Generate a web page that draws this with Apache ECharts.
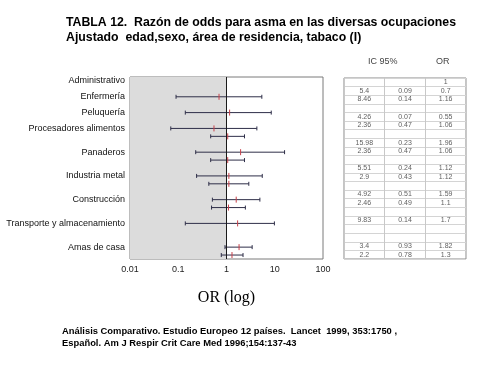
<!DOCTYPE html>
<html>
<head>
<meta charset="utf-8">
<script src="https://cdn.jsdelivr.net/npm/echarts@6/dist/echarts.min.js"></script>
<style>html,body{margin:0;padding:0;background:#fff}#c{width:491px;height:369px}</style>
</head>
<body>
<div id="c"></div>
<script>
// ---- data ----
var rowLabels = ['Administrativo','Enfermería','Peluquería','Procesadores alimentos','Panaderos','Industria metal','Construcción','Transporte y almacenamiento','Amas de casa'];
var rowLabelSlots = [0, 2, 4, 6, 9, 12, 15, 18, 21];
var plotSlotCount = 23;
var barSlots   = [2, 4, 6, 7, 9, 10, 12, 13, 15, 16, 18, 21, 22];
var tableRows  = [1, 2, 4, 5, 7, 8, 10, 11, 13, 14, 16, 19, 20];
var tableRowCount = 21;
var upperCI = ['5.4','8.46','4.26','2.36','15.98','2.36','5.51','2.9','4.92','2.46','9.83','3.4','2.2'];
var lowerCI = ['0.09','0.14','0.07','0.47','0.23','0.47','0.24','0.43','0.51','0.49','0.14','0.93','0.78'];
var oddsRatio = ['0.7','1.16','0.55','1.06','1.96','1.06','1.12','1.12','1.59','1.1','1.7','1.82','1.3'];
var referenceRow = 0, referenceOR = '1';
var tableColumns = ['sup','inf','OR'];
var tickValues = [0.01, 0.1, 1, 10, 100];
var tickLabels = ['0.01','0.1','1','10','100'];

// ---- build ----
var slotData = [];
for (var i = 0; i < plotSlotCount; i++) slotData.push('s' + i);
var slotLabel = {};
rowLabelSlots.forEach(function (s, k) { slotLabel['s' + s] = rowLabels[k]; });

var barData = barSlots.map(function (s, k) {
  return [parseFloat(lowerCI[k]), 's' + s, parseFloat(upperCI[k]), parseFloat(oddsRatio[k])];
});

var tRowData = [];
for (var r = 0; r < tableRowCount; r++) tRowData.push('r' + r);
var cellData = [];
tableRows.forEach(function (row, k) {
  cellData.push([0, row, upperCI[k]]);
  cellData.push([1, row, lowerCI[k]]);
  cellData.push([2, row, oddsRatio[k]]);
});
cellData.push([2, referenceRow, referenceOR]);

var chart = echarts.init(document.getElementById('c'), null, {renderer: 'canvas'});
chart.setOption({
  animation: false,
  backgroundColor: '#fff',
  title: [
    {text: 'TABLA 12.  Razón de odds para asma en las diversas ocupaciones\nAjustado  edad,sexo, área de residencia, tabaco (I)',
     left: 66, top: 15, padding: 0,
     textStyle: {fontFamily: 'Liberation Sans', fontWeight: 'bold', fontSize: 12.3, lineHeight: 15, color: '#000'}},
    {text: 'Análisis Comparativo. Estudio Europeo 12 países.  Lancet  1999, 353:1750 ,\nEspañol. Am J Respir Crit Care Med 1996;154:137-43',
     left: 62, top: 325, padding: 0,
     textStyle: {fontFamily: 'Liberation Sans', fontWeight: 'bold', fontSize: 9.4, lineHeight: 12.5, color: '#000'}},
    {text: 'IC 95%', left: 368, top: 57, padding: 0, textStyle: {fontFamily: 'Liberation Sans', fontWeight: 'normal', fontSize: 9, color: '#444'}},
    {text: 'OR', left: 436, top: 57, padding: 0, textStyle: {fontFamily: 'Liberation Sans', fontWeight: 'normal', fontSize: 9, color: '#444'}}
  ],
  grid: [
    {left: 130, top: 77, width: 193, height: 182, show: true, borderColor: '#7a7a7a', borderWidth: 1, backgroundColor: 'transparent'},
    {left: 344, top: 78, width: 122, height: 181, show: true, borderColor: '#8a8a8a', borderWidth: 1, backgroundColor: 'transparent'}
  ],
  xAxis: [
    {gridIndex: 0, type: 'log', logBase: 10, min: 0.01, max: 100,
     axisLine: {show: false}, axisTick: {show: false}, splitLine: {show: false},
     axisLabel: {fontFamily: 'Liberation Sans', fontSize: 9, color: '#222', margin: 6,
       formatter: function (v) {
         var best = 0;
         tickValues.forEach(function (t, k) { if (Math.abs(Math.log10(t) - Math.log10(v)) < Math.abs(Math.log10(tickValues[best]) - Math.log10(v))) best = k; });
         return tickLabels[best];
       }},
     name: 'OR (log)', nameLocation: 'middle', nameGap: 31,
     nameTextStyle: {fontFamily: 'Liberation Serif', fontSize: 16, color: '#000'}},
    {gridIndex: 1, type: 'category', data: tableColumns, boundaryGap: true,
     axisLine: {show: false}, axisTick: {show: false}, axisLabel: {show: false},
     splitLine: {show: true, interval: 0, lineStyle: {color: '#c8c8c8', width: 1}}}
  ],
  yAxis: [
    {gridIndex: 0, type: 'category', inverse: true, data: slotData,
     axisLine: {show: false}, axisTick: {show: false}, splitLine: {show: false},
     axisLabel: {interval: 0, fontFamily: 'Liberation Sans', fontSize: 9, color: '#111', margin: 5,
       formatter: function (v) { return slotLabel[v] || ''; }}},
    {gridIndex: 1, type: 'category', inverse: true, data: tRowData,
     axisLine: {show: false}, axisTick: {show: false}, axisLabel: {show: false},
     splitLine: {show: true, interval: 0, lineStyle: {color: '#d4d4d4', width: 1}}}
  ],
  series: [
    {type: 'custom', xAxisIndex: 0, yAxisIndex: 0, data: barData,
     encode: {x: [0, 2, 3], y: 1},
     renderItem: function (params, api) {
       var y = api.value(1);
       var a = api.coord([api.value(0), y]);
       var b = api.coord([api.value(2), y]);
       var c = api.coord([api.value(3), y]);
       var ln = {stroke: '#2e2e48', lineWidth: 1};
       return {type: 'group', children: [
         {type: 'line', shape: {x1: a[0], y1: a[1], x2: b[0], y2: b[1]}, style: ln},
         {type: 'line', shape: {x1: a[0], y1: a[1] - 2, x2: a[0], y2: a[1] + 2}, style: ln},
         {type: 'line', shape: {x1: b[0], y1: b[1] - 2, x2: b[0], y2: b[1] + 2}, style: ln},
         {type: 'line', shape: {x1: c[0], y1: c[1] - 3, x2: c[0], y2: c[1] + 3}, style: {stroke: '#c8404a', lineWidth: 1}}
       ]};
     },
     markArea: {silent: true, itemStyle: {color: '#dcdcdc'}, data: [[{xAxis: 0.01}, {xAxis: 1}]]},
     markLine: {silent: true, symbol: 'none', label: {show: false},
       lineStyle: {color: '#1a1a1a', width: 1, type: 'solid'}, data: [{xAxis: 1}]},
     z: 3},
    {type: 'scatter', xAxisIndex: 1, yAxisIndex: 1, symbolSize: 0, silent: true,
     data: cellData.map(function (d) { return [d[0], d[1], d[2]]; }),
     label: {show: true, position: 'inside', formatter: function (p) { return p.value[2]; },
       fontFamily: 'Liberation Sans', fontSize: 7, color: '#333'}}
  ]
});
</script>
</body>
</html>
